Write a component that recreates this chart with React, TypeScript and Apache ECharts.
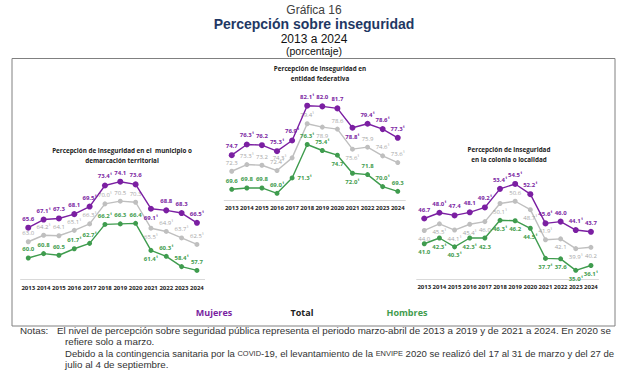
import React, { useEffect, useRef } from 'react';
import * as echarts from 'echarts';

const years = ['2013', '2014', '2015', '2016', '2017', '2018', '2019', '2020', '2021', '2022', '2023', '2024'];

// Panel 1: municipio o demarcación territorial
const munMujeres = [65.6, 67.1, 67.3, 68.1, 69.5, 73.4, 74.1, 73.6, 69.1, 68.8, 68.3, 66.5];
const munTotal = [63.0, 64.2, 64.1, 65.1, 66.3, 70.0, 70.5, 70.3, 65.5, 64.9, 63.7, 62.5];
const munHombres = [60.0, 60.8, 60.5, 61.7, 62.7, 66.2, 66.3, 66.4, 61.4, 60.3, 58.4, 57.7];
const munMujeresNota = [0, 1, 0, 0, 1, 1, 0, 0, 1, 0, 0, 1];
const munTotalNota = [0, 1, 0, 1, 1, 1, 0, 0, 1, 1, 1, 1];
const munHombresNota = [0, 0, 0, 1, 1, 1, 0, 0, 1, 1, 1, 0];

// Panel 2: entidad federativa
const entMujeres = [74.7, 76.3, 76.2, 75.3, 76.9, 82.1, 82.0, 81.7, 78.8, 79.4, 78.6, 77.3];
const entTotal = [72.3, 73.3, 73.2, 72.4, 74.3, 79.4, 78.9, 78.6, 75.6, 75.9, 74.6, 73.6];
const entHombres = [69.6, 69.8, 69.8, 69.0, 71.3, 76.3, 75.4, 74.7, 72.0, 71.8, 70.0, 69.3];
const entMujeresNota = [0, 1, 0, 1, 1, 1, 0, 0, 1, 1, 1, 1];
const entTotalNota = [0, 1, 0, 1, 1, 1, 0, 0, 1, 0, 1, 1];
const entHombresNota = [0, 0, 0, 1, 1, 1, 1, 0, 1, 0, 1, 0];

// Panel 3: colonia o localidad
const colMujeres = [46.7, 48.0, 47.4, 48.1, 49.2, 53.4, 54.5, 52.2, 45.6, 46.0, 44.1, 43.7];
const colTotal = [44.0, 45.5, 44.1, 45.4, 46.0, 50.1, 50.6, 48.7, 41.9, 42.1, 39.9, 40.2];
const colHombres = [41.0, 42.3, 40.3, 42.3, 42.3, 46.3, 46.2, 44.5, 37.7, 37.6, 35.0, 36.1];
const colMujeresNota = [0, 1, 0, 0, 1, 1, 1, 1, 1, 0, 1, 0];
const colTotalNota = [0, 1, 1, 1, 0, 1, 0, 1, 1, 0, 1, 0];
const colHombresNota = [0, 1, 1, 1, 0, 1, 0, 1, 1, 0, 1, 1];

// label placement (style): T top, B bottom, L left, R right
const munMujeresPos = 'TTTTTTTTBTTT';
const munTotalPos = 'TTTTTTTTBTTT';
const munHombresPos = 'TTTTTTTTBTTT';
const entMujeresPos = 'TTTTTTTTBTTT';
const entTotalPos = 'TTTTLTBTBTTT';
const entHombresPos = 'TTTTRTTBBTTT';
const colMujeresPos = 'TTTTTTTTTTTT';
const colTotalPos = 'BBBBBBTBTBBB';
const colHombresPos = 'BBBBBBBBBBBB';

const PURPLE = '#7b1fa2';
const GRAY = '#bfbfbf';
const GREEN = '#3f9c4e';
const FONT = '"Open Sans", "Liberation Sans", sans-serif';
const ARIAL = '"Liberation Sans", Arial, sans-serif';

const posMap: Record<string, string> = { T: 'top', B: 'bottom', L: 'left', R: 'right' };

function mkSeries(
  grid: number,
  values: number[],
  marks: number[],
  pos: string,
  color: string,
  labelColor: string,
  size: number,
  bold: boolean,
  z: number
) {
  return {
    type: 'line',
    xAxisIndex: grid,
    yAxisIndex: grid,
    z,
    data: values.map((v, i) => ({ value: v, label: { position: posMap[pos[i]] } })),
    symbol: 'circle',
    symbolSize: size,
    lineStyle: { color, width: 1.4 },
    itemStyle: { color },
    label: {
      show: true,
      fontSize: 6,
      fontWeight: bold ? 'bold' : 'normal',
      fontFamily: FONT,
      color: labelColor,
      distance: 3,
      formatter: (p: any) => Number(p.value).toFixed(1) + (marks[p.dataIndex] ? '¹' : ''),
    },
    emphasis: { disabled: true },
  };
}

const grids = [
  { left: 20.6, top: 166, width: 184, height: 113.6 },
  { left: 224.2, top: 93, width: 181.1, height: 107 },
  { left: 416.7, top: 172.9, width: 181.8, height: 106.3 },
];
const yRanges = [
  [56, 77],
  [68, 84],
  [33, 57],
];

function txt(x: number, y: number, text: string, size: number, color: string, weight = 'normal', family = ARIAL) {
  return {
    type: 'text',
    x,
    y,
    style: {
      text,
      fontSize: size,
      fontWeight: weight,
      fontFamily: family,
      fill: color,
      align: 'center',
      verticalAlign: 'middle',
    },
  };
}

function mkRich(size: number) {
  return {
    n: { fontSize: size, fontFamily: ARIAL, fill: '#333' },
    sc: { fontSize: size * 0.78, fontFamily: ARIAL, fill: '#333' },
  };
}

function ltxt(x: number, y: number, text: string, size = 9.8) {
  return {
    type: 'text',
    x,
    y,
    style: {
      text,
      fontSize: size,
      fontFamily: ARIAL,
      fill: '#333',
      align: 'left',
      verticalAlign: 'middle',
      rich: mkRich(size),
    },
  };
}

const option: any = {
  animation: false,
  grid: grids,
  xAxis: grids.map((_, i) => ({
    type: 'category',
    gridIndex: i,
    data: years,
    boundaryGap: true,
    axisLine: { lineStyle: { color: '#d9d9d9', width: 1 } },
    axisTick: { show: false },
    axisLabel: { fontSize: 6, fontWeight: 'bold', color: '#222', fontFamily: FONT, margin: 5, interval: 0 },
  })),
  yAxis: grids.map((_, i) => ({
    type: 'value',
    gridIndex: i,
    min: yRanges[i][0],
    max: yRanges[i][1],
    show: false,
    splitLine: { show: false },
  })),
  series: [
    mkSeries(0, munHombres, munHombresNota, munHombresPos, GREEN, GREEN, 5, true, 2),
    mkSeries(0, munTotal, munTotalNota, munTotalPos, GRAY, '#a6a6a6', 5, false, 2),
    mkSeries(0, munMujeres, munMujeresNota, munMujeresPos, PURPLE, PURPLE, 6, true, 3),
    mkSeries(1, entHombres, entHombresNota, entHombresPos, GREEN, GREEN, 5, true, 2),
    mkSeries(1, entTotal, entTotalNota, entTotalPos, GRAY, '#a6a6a6', 5, false, 2),
    mkSeries(1, entMujeres, entMujeresNota, entMujeresPos, PURPLE, PURPLE, 6, true, 3),
    mkSeries(2, colHombres, colHombresNota, colHombresPos, GREEN, GREEN, 5, true, 2),
    mkSeries(2, colTotal, colTotalNota, colTotalPos, GRAY, '#a6a6a6', 5, false, 2),
    mkSeries(2, colMujeres, colMujeresNota, colMujeresPos, PURPLE, PURPLE, 6, true, 3),
  ],
  graphic: [
    txt(314, 10, 'Gráfica 16', 12, '#404040'),
    txt(314, 24, 'Percepción sobre inseguridad', 14, '#1f3864', 'bold'),
    txt(314, 39, '2013 a 2024', 12, '#111'),
    txt(314, 51, '(porcentaje)', 10.5, '#111'),
    {
      type: 'rect',
      shape: { x: 12, y: 58.5, width: 603, height: 267.5 },
      style: { fill: 'none', stroke: '#808080', lineWidth: 1 },
    },
    txt(122, 150, 'Percepción de inseguridad en el  municipio o', 6.3, '#222', 'bold', FONT),
    txt(122, 160, 'demarcación territorial', 6.3, '#222', 'bold', FONT),
    txt(320, 68, 'Percepción de inseguridad en', 6.3, '#222', 'bold', FONT),
    txt(320, 78, 'entidad federativa', 6.3, '#222', 'bold', FONT),
    txt(509, 149, 'Percepción de inseguridad', 6.3, '#222', 'bold', FONT),
    txt(509, 159, 'en la colonia o localidad', 6.3, '#222', 'bold', FONT),
    txt(214, 312, 'Mujeres', 9, PURPLE, 'bold', FONT),
    txt(302, 312, 'Total', 9, '#222', 'bold', FONT),
    txt(407, 312, 'Hombres', 9, GREEN, 'bold', FONT),
    ltxt(20, 330, '{n|Notas:}'),
    ltxt(
      57,
      330,
      '{n|El nivel de percepción sobre seguridad pública representa el periodo marzo-abril de 2013 a 2019 y de 2021 a 2024. En 2020 se}'
    ),
    ltxt(65, 341.5, '{n|refiere solo a marzo.}'),
    ltxt(
      65,
      353,
      '{n|Debido a la contingencia sanitaria por la }{sc|COVID}{n|-19, el levantamiento de la }{sc|ENVIPE}{n| 2020 se realizó del 17 al 31 de marzo y del 27 de}',
      9.55
    ),
    ltxt(65, 364.5, '{n|julio al 4 de septiembre.}'),
  ],
};

export default function App() {
  const ref = useRef<HTMLDivElement>(null);
  useEffect(() => {
    document.body.style.margin = '0';
    const chart = echarts.init(ref.current!, null, { renderer: 'svg' });
    chart.setOption(option);
    return () => chart.dispose();
  }, []);
  return <div ref={ref} style={{ width: 629, height: 371 }} />;
}
